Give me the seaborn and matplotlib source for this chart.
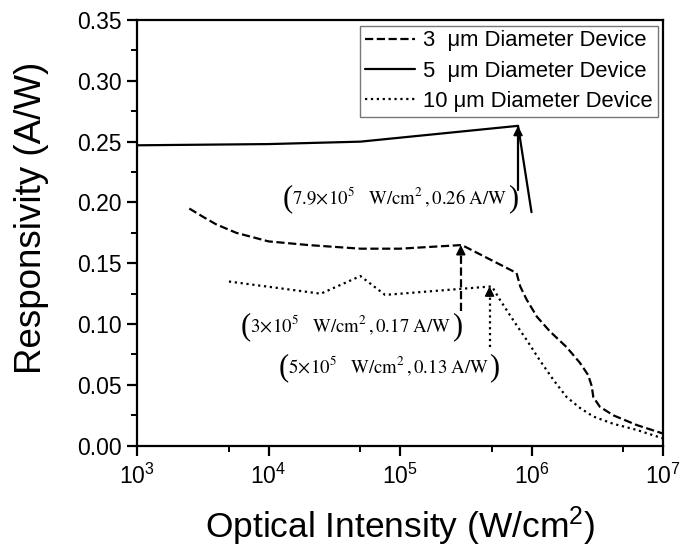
import numpy as np
import pandas as pd
import matplotlib
matplotlib.use("Agg")
import matplotlib.pyplot as plt
import seaborn as sns
from matplotlib.ticker import FixedLocator, LogLocator

# ---- data ----
x_3um = [2.5e3, 3.2e3, 4.0e3, 5.7e3, 1.0e4, 2.0e4, 5.0e4, 1.0e5, 2.95e5, 7.7e5,
         8.2e5, 9.2e5, 1.10e6, 1.38e6, 1.85e6, 2.34e6, 2.70e6, 2.87e6, 2.95e6,
         3.31e6, 4.19e6, 6.31e6, 1e7]
y_3um = [0.195, 0.188, 0.182, 0.175, 0.168, 0.165, 0.162, 0.162, 0.165, 0.142,
         0.131, 0.120, 0.106, 0.094, 0.081, 0.068, 0.058, 0.049, 0.040,
         0.032, 0.025, 0.017, 0.010]

x_5um = [1e3, 1e4, 5e4, 7.9e5, 1.0e6]
y_5um = [0.247, 0.248, 0.250, 0.263, 0.192]

x_10um = [5e3, 2.5e4, 5e4, 7.7e4, 5e5, 5.75e5, 7.28e5, 9.18e5, 1.16e6, 1.47e6,
          1.85e6, 2.34e6, 2.95e6, 4.19e6, 6.31e6, 1e7]
y_10um = [0.135, 0.125, 0.1395, 0.124, 0.131, 0.120, 0.103, 0.087, 0.070, 0.054,
          0.040, 0.031, 0.024, 0.018, 0.013, 0.006]

labels = ["3  μm Diameter Device", "5  μm Diameter Device", "10 μm Diameter Device"]
styles = ["--", "-", ":"]

# annotations: arrow x, arrow base y, arrow tip y, text x, text y
ann_x = [7.9e5, 2.9e5, 4.8e5]
ann_y0 = [0.210, 0.111, 0.081]
ann_y1 = [0.263, 0.165, 0.131]
ann_tx = [1.0e5, 4.24e4, 8.24e4]
ann_ty = [0.2044, 0.0992, 0.0655]
ann_text = [r"$7.9\!\times\!10^5\ \ \ \mathrm{W}/\mathrm{cm}^2\,,0.26\ \mathrm{A/W}$",
            r"$3\!\times\!10^5\ \ \ \mathrm{W}/\mathrm{cm}^2\,,0.17\ \mathrm{A/W}$",
            r"$5\!\times\!10^5\ \ \ \mathrm{W}/\mathrm{cm}^2\,,0.13\ \mathrm{A/W}$"]
ann_styles = ["-", "--", ":"]

xticks = [1e3, 1e4, 1e5, 1e6, 1e7]
yticks = [0.00, 0.05, 0.10, 0.15, 0.20, 0.25, 0.30, 0.35]

sns.set_theme(style="ticks")
plt.rcParams['font.family'] = ['Liberation Sans', 'DejaVu Sans']
plt.rcParams['mathtext.fontset'] = 'stix'
plt.rcParams['text.color'] = 'black'
plt.rcParams['axes.labelcolor'] = 'black'
plt.rcParams['xtick.color'] = 'black'
plt.rcParams['ytick.color'] = 'black'
plt.rcParams['xtick.labelcolor'] = 'black'
plt.rcParams['ytick.labelcolor'] = 'black'

fig = plt.figure(figsize=(6.86, 5.5), dpi=100)
ax = fig.add_axes([0.1997, 0.1896, 0.7668, 0.774])

series = [(x_3um, y_3um), (x_5um, y_5um), (x_10um, y_10um)]
for (xs, ys), lab, ls in zip(series, labels, styles):
    df = pd.DataFrame({"x": xs, "y": ys})
    sns.lineplot(data=df, x="x", y="y", ax=ax, color="black", lw=1.6,
                 linestyle=ls, label=lab, sort=False, estimator=None)

ax.set_xscale("log")
ax.set_xlim(1e3, 1e7)
ax.set_ylim(0, 0.35)
ax.set_xticks(xticks)
ax.xaxis.set_minor_locator(LogLocator(base=10, subs=[5.0]))
ax.set_yticks(yticks)
ax.set_yticklabels([f"{v:.2f}" for v in yticks])
ax.yaxis.set_minor_locator(FixedLocator(np.arange(0.025, 0.35, 0.05)))

for s in ax.spines.values():
    s.set_linewidth(1.6)
    s.set_color("black")
ax.tick_params(axis="both", which="major", direction="out", length=7, width=1.6,
               labelsize=16.5, colors="black", labelcolor="black", top=False, right=False)
ax.tick_params(axis="x", which="major", pad=6)
ax.tick_params(axis="y", which="major", pad=4)
ax.tick_params(axis="both", which="minor", direction="out", length=4, width=1.4,
               colors="black", top=False, right=False)

ax.set_xlabel(r"Optical Intensity (W/cm$\mathregular{^2}$)", fontsize=25.5, labelpad=11,
              color="black")
ax.set_ylabel("Responsivity (A/W)", fontsize=26.5, color="black")
ax.yaxis.set_label_coords(-0.168, 0.535)

for xa, y0, y1, tx, ty, t, ls in zip(ann_x, ann_y0, ann_y1, ann_tx, ann_ty, ann_text, ann_styles):
    ax.plot([xa, xa], [y0, y1 - 0.004], color="black", lw=1.6, linestyle=ls)
    ax.annotate("", xy=(xa, y1), xytext=(xa, y1 - 0.008),
                arrowprops=dict(arrowstyle="-|>", color="black", lw=1.2,
                                mutation_scale=14, shrinkA=0, shrinkB=0))
    txt = ax.text(tx, ty, t, ha="center", va="center", fontsize=13.5, color="black")
    ax.annotate("(", xy=(0, 0.45), xycoords=txt, ha="right", va="center",
                fontsize=22, family="Liberation Serif", color="black")
    ax.annotate(")", xy=(1, 0.45), xycoords=txt, ha="left", va="center",
                fontsize=22, family="Liberation Serif", color="black")

leg = ax.legend(loc="upper right", fontsize=15.8, frameon=True, fancybox=False,
                edgecolor="#777777", framealpha=1, borderaxespad=0.25, borderpad=0.22,
                handlelength=2.3, handletextpad=0.35, labelspacing=0.42)
leg.get_frame().set_linewidth(1.0)
for h in leg.get_lines():
    h.set_linewidth(1.6)
for t in leg.get_texts():
    t.set_color("black")

fig.savefig("out.png", dpi=100)
